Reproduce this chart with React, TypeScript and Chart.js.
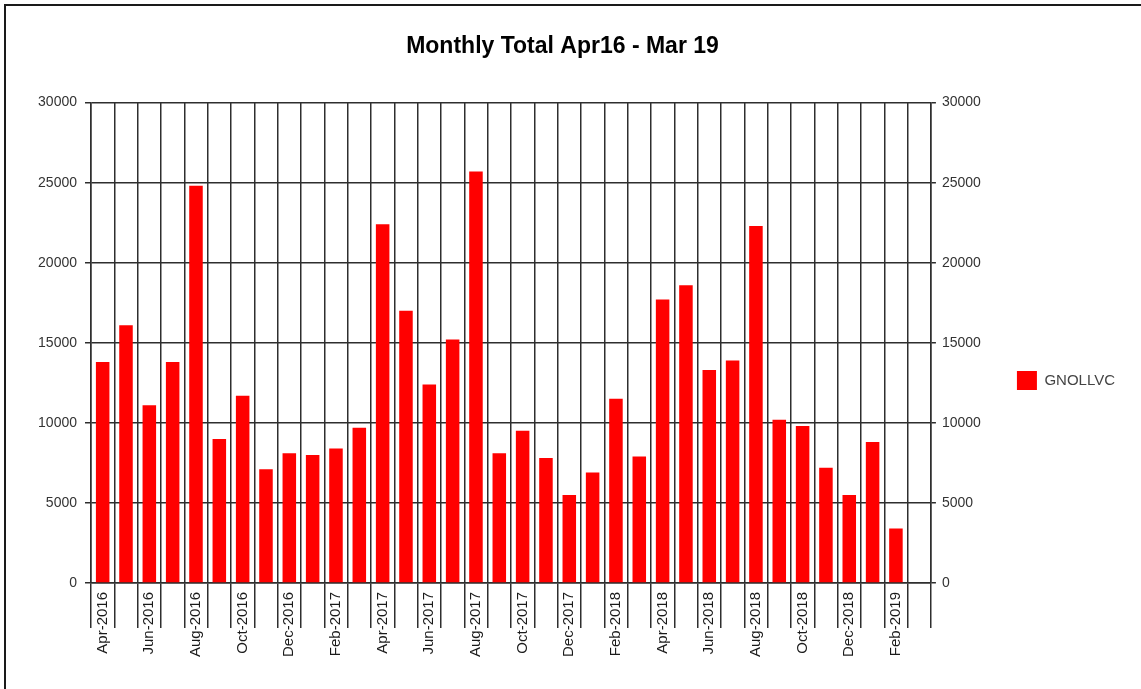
import React, { useEffect, useRef } from 'react';
import { Chart, registerables } from 'chart.js';

Chart.register(...registerables);

const chartTitle = 'Monthly Total Apr16 - Mar 19';
const seriesName = 'GNOLLVC';

const months = [
  'Apr-2016', 'May-2016', 'Jun-2016', 'Jul-2016', 'Aug-2016', 'Sep-2016',
  'Oct-2016', 'Nov-2016', 'Dec-2016', 'Jan-2017', 'Feb-2017', 'Mar-2017',
  'Apr-2017', 'May-2017', 'Jun-2017', 'Jul-2017', 'Aug-2017', 'Sep-2017',
  'Oct-2017', 'Nov-2017', 'Dec-2017', 'Jan-2018', 'Feb-2018', 'Mar-2018',
  'Apr-2018', 'May-2018', 'Jun-2018', 'Jul-2018', 'Aug-2018', 'Sep-2018',
  'Oct-2018', 'Nov-2018', 'Dec-2018', 'Jan-2019', 'Feb-2019', 'Mar-2019',
];

const totals: (number | null)[] = [
  13800, 16100, 11100, 13800, 24800, 9000,
  11700, 7100, 8100, 8000, 8400, 9700,
  22400, 17000, 12400, 15200, 25700, 8100,
  9500, 7800, 5500, 6900, 11500, 7900,
  17700, 18600, 13300, 13900, 22300, 10200,
  9800, 7200, 5500, 8800, 3400, null,
];

const yMin = 0;
const yMax = 30000;
const yStep = 5000;

const FONT = '"Liberation Sans", Arial, Helvetica, sans-serif';
const GRID = '#2e2e2e';

export default function App() {
  const canvasRef = useRef<HTMLCanvasElement | null>(null);

  useEffect(() => {
    const canvas = canvasRef.current;
    if (!canvas) return;
    const chart = new Chart(canvas, {
      type: 'bar',
      data: {
        labels: months,
        datasets: [
          {
            label: seriesName,
            data: totals,
            backgroundColor: '#ff0000',
            borderWidth: 0,
            barPercentage: 0.58,
            categoryPercentage: 1,
            yAxisID: 'y',
          },
        ],
      },
      options: {
        responsive: false,
        animation: false,
        layout: { padding: 0 },
        plugins: {
          title: {
            display: true,
            text: chartTitle,
            color: '#000',
            font: { family: FONT, size: 23, weight: 'bold' },
            padding: { top: 33, bottom: 42 },
          },
          legend: {
            display: true,
            position: 'right',
            align: 'center',
            title: { display: true, text: ' ', font: { size: 10 }, padding: { top: 0, bottom: 60 } },
            labels: {
              boxWidth: 20,
              boxHeight: 19,
              padding: 10,
              color: '#444',
              font: { family: FONT, size: 15 },
            },
          },
          tooltip: { enabled: false },
        },
        scales: {
          x: {
            offset: true,
            grid: { offset: true, color: GRID, lineWidth: 1.5, tickLength: 45, drawTicks: true },
            border: { color: GRID, width: 1.5 },
            ticks: {
              autoSkip: false,
              minRotation: 90,
              maxRotation: 90,
              padding: -36,
              color: '#1a1a1a',
              font: { family: FONT, size: 15 },
              callback: (_v: any, index: number) => (index % 2 === 0 ? months[index] : ''),
            },
            afterFit: (s: any) => { s.height = 106; },
          },
          y: {
            position: 'left',
            min: yMin,
            max: yMax,
            grid: { color: GRID, lineWidth: 1.5, tickLength: 6 },
            border: { color: GRID, width: 1.5 },
            ticks: {
              stepSize: yStep,
              padding: 8,
              color: '#333',
              font: { family: FONT, size: 14 },
              callback: (v: any) => String(v),
            },
            afterFit: (s: any) => { s.width = 91; },
          },
          y2: {
            position: 'right',
            min: yMin,
            max: yMax,
            grid: { color: GRID, lineWidth: 1.5, tickLength: 5, drawOnChartArea: false },
            border: { color: GRID, width: 1.5 },
            ticks: {
              stepSize: yStep,
              padding: 6,
              color: '#333',
              font: { family: FONT, size: 14 },
              callback: (v: any) => String(v),
            },
            afterFit: (s: any) => { s.width = 76; },
          },
        },
      },
    } as any);
    return () => chart.destroy();
  }, []);

  return (
    <div style={{ position: 'absolute', left: 0, top: 0, width: 1141, height: 689, overflow: 'hidden', background: '#fff' }}>
      <canvas ref={canvasRef} width={1125} height={689} style={{ display: 'block', position: 'absolute', left: 0, top: 0 }} />
      <div
        style={{
          position: 'absolute',
          left: 4,
          top: 4,
          width: 1160,
          height: 700,
          borderTop: '2px solid #1a1a1a',
          borderLeft: '2px solid #1a1a1a',
          pointerEvents: 'none',
        }}
      />
    </div>
  );
}
